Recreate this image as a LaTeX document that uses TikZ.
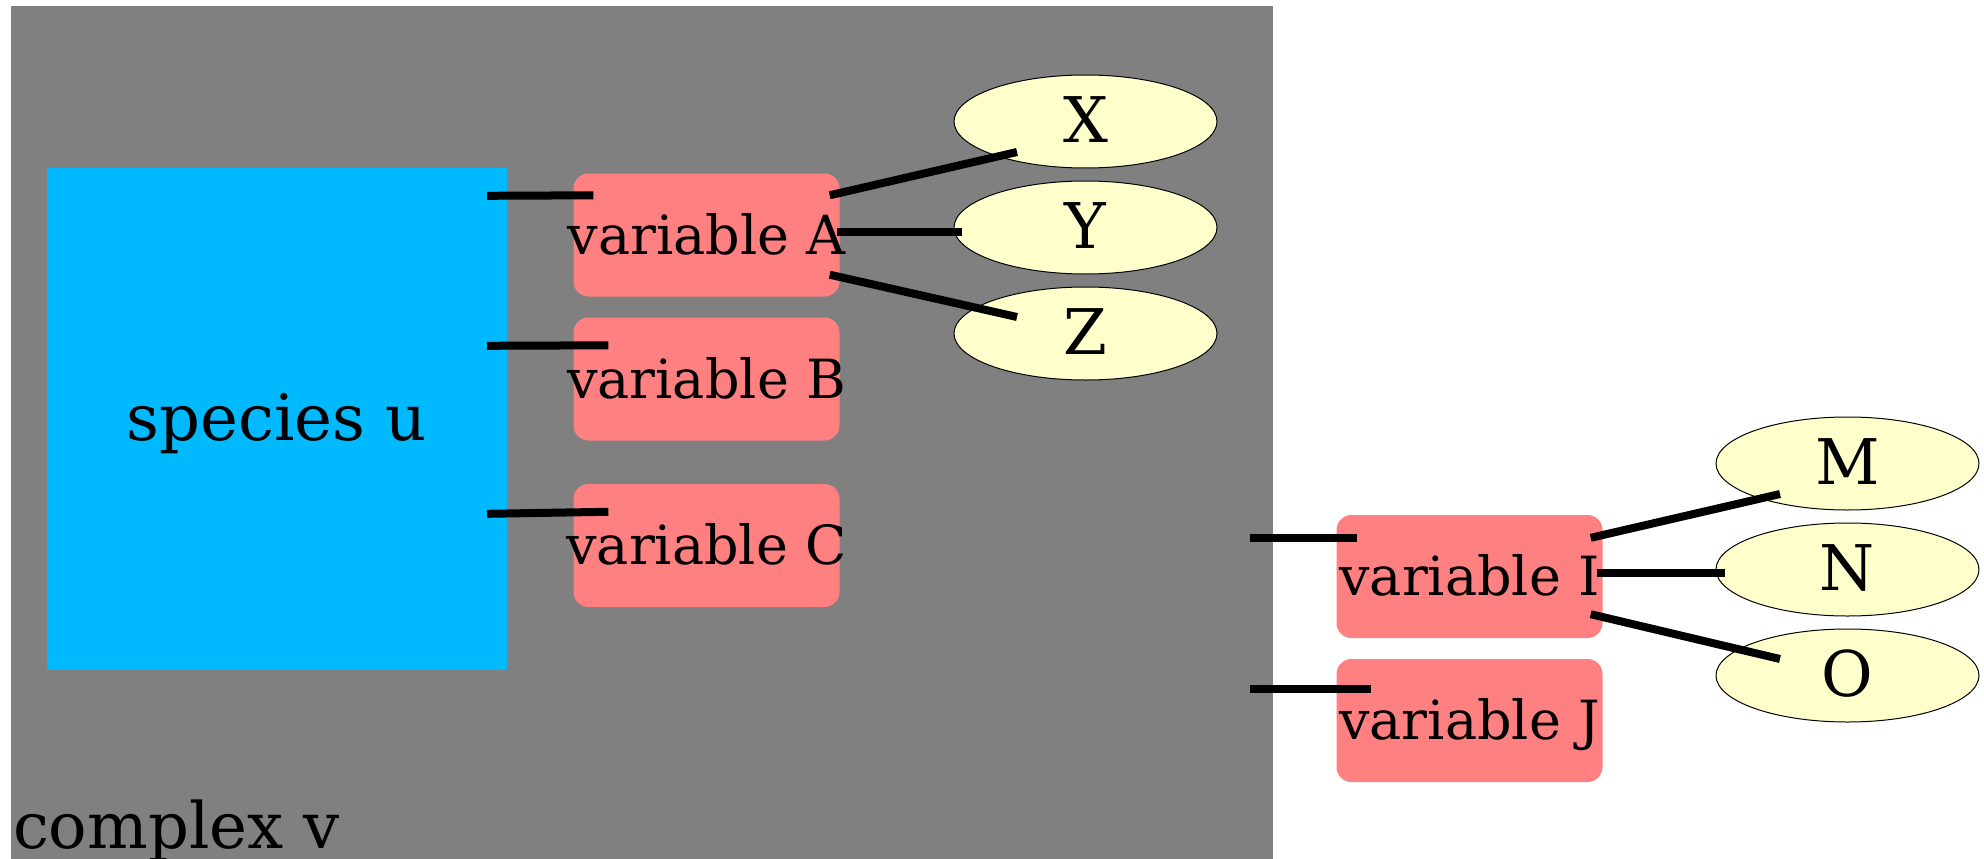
\documentclass[tikz,border=0pt]{standalone}
\usepackage{fontspec}
\setmainfont{DejaVu Serif}
\usetikzlibrary{shapes.geometric, calc}
\definecolor{complexgray}{RGB}{128,128,128}
\definecolor{speciesblue}{RGB}{0,185,255}
\definecolor{varsalmon}{RGB}{255,128,128}
\definecolor{leafyellow}{RGB}{255,255,204}
\newcommand{\vartext}[1]{\makebox[0pt]{#1}}
\tikzset{
  varbox/.style={fill=varsalmon, rounded corners=15pt, minimum width=266pt, minimum height=123pt,
    inner sep=0pt, text height=38pt, text depth=0pt, font=\fontsize{54}{60}\selectfont},
  leaf/.style={ellipse, draw=black, line width=1pt, fill=leafyellow, minimum width=263pt,
    minimum height=93pt, inner sep=0pt, text height=41pt, text depth=0pt, font=\fontsize{63}{70}\selectfont},
  link/.style={line width=8pt},
}

\begin{document}
\begin{tikzpicture}[x=1pt, y=-1pt]
  \useasboundingbox (0,0) rectangle (1984,859);

  % Complex v (cluster)
  \node[fill=complexgray, minimum width=1262pt, minimum height=853pt, inner sep=0pt] (v) at (642, 432.5) {};
  \node[anchor=base west, inner sep=0pt, font=\fontsize{64}{70}\selectfont] (vlabel) at ($(v.south west)+(2,-11)$) {complex v};

  % Species u
  \node[fill=speciesblue, minimum width=460pt, minimum height=502pt, inner sep=0pt,
    text height=42pt, text depth=0pt, font=\fontsize{64}{70}\selectfont] (u) at (277, 419) {species u};

  % Variables
  \node[varbox] (A) at (706.5, 235) {\vartext{variable A}};
  \node[varbox] (B) at (706.5, 379) {\vartext{variable B}};
  \node[varbox] (C) at (706.5, 545.5) {\vartext{variable C}};
  \node[varbox] (I) at (1469.5, 576.5) {\vartext{variable I}};
  \node[varbox] (J) at (1469.5, 720.5) {\vartext{variable J}};

  % Values
  \node[leaf] (X) at (1085.5, 121.5) {X};
  \node[leaf] (Y) at (1085.5, 227.5) {Y};
  \node[leaf] (Z) at (1085.5, 333.5) {Z};
  \node[leaf] (M) at (1847.5, 463.5) {M};
  \node[leaf] (N) at (1847.5, 569.5) {N};
  \node[leaf] (O) at (1847.5, 675.5) {O};

  % Links
  \draw[link] ($(u.north east)+(-20,28)$) -- ($(A.north west)+(20,22)$);
  \draw[link] ($(u.north east)+(-20,178)$) -- ($(B.north west)+(35,28)$);
  \draw[link] ($(u.north east)+(-20,346)$) -- ($(C.north west)+(35,28)$);
  \draw[link] ($(A.north east)+(-10,22)$) -- ($(X.center)+(-68.5,30.5)$);
  \draw[link] ($(A.east)+(-3,-3)$) -- ($(Y.center)+(-123.5,4.5)$);
  \draw[link] ($(A.south east)+(-10,-22)$) -- ($(Z.center)+(-68.5,-16.5)$);
  \draw[link] ($(v.north east)+(-23,532)$) -- ($(I.north west)+(21,23)$);
  \draw[link] ($(v.north east)+(-23,683)$) -- ($(J.north west)+(35,30)$);
  \draw[link] ($(I.north east)+(-12,23)$) -- ($(M.center)+(-67.5,30.5)$);
  \draw[link] ($(I.east)+(-6,-3.5)$) -- ($(N.center)+(-122.5,3.5)$);
  \draw[link] ($(I.south east)+(-12,-24)$) -- ($(O.center)+(-67.5,-16.5)$);
\end{tikzpicture}
\end{document}
